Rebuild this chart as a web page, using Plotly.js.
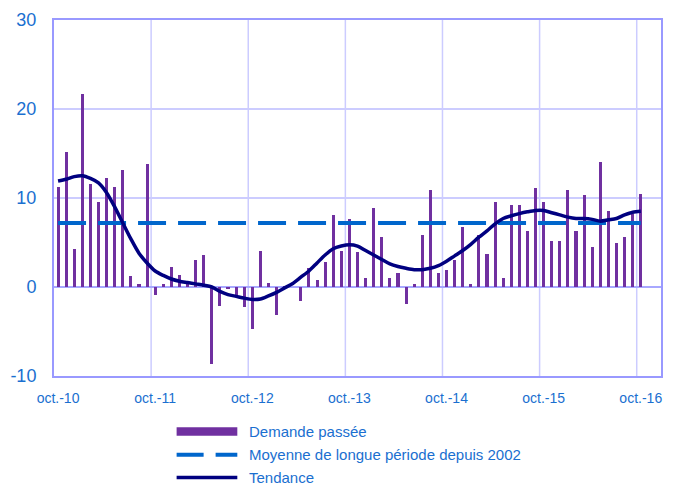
<!DOCTYPE html>
<html>
<head>
<meta charset="utf-8">
<script src="https://cdn.plot.ly/plotly-3.0.1.min.js"></script>
<style>html,body{margin:0;padding:0;background:#fff;}#chart{width:694px;height:488px;}</style>
</head>
<body>
<div id="chart"></div>
<script>
// Monthly categories oct.-10 ... oct.-16 (index 0..72)
const monthIndex = Array.from({length: 73}, (_, i) => i);
const tickLabels = ["oct.-10", "oct.-11", "oct.-12", "oct.-13", "oct.-14", "oct.-15", "oct.-16"];
const tickIndex = [0, 12, 24, 36, 48, 60, 72];

const demandePassee = [
  11.2, 15.2, 4.3, 21.7, 11.6, 9.6, 12.2, 11.2, 13.1, 1.2, 0.3, 13.8,
  -0.9, 0.3, 2.3, 1.4, 0.6, 3.0, 3.6, -8.7, -2.1, -0.2, -1.0, -2.3,
  -4.7, 4.1, 0.5, -3.2, 0.1, 0.0, -1.6, 2.1, 0.8, 2.8, 8.1, 4.0,
  7.6, 3.9, 1.0, 8.9, 5.6, 1.0, 1.6, -1.9, 0.3, 5.8, 10.9, 1.6,
  1.9, 3.0, 6.7, 0.3, 5.8, 3.7, 9.6, 1.0, 9.2, 9.2, 6.3, 11.1,
  9.6, 5.2, 5.2, 10.9, 6.3, 10.3, 4.5, 14.0, 8.5, 5.0, 5.6, 8.2,
  10.5
];

const tendance = [
  11.9, 12.1, 12.4, 12.5, 12.2, 11.7, 10.6, 9.0, 7.2, 5.4, 3.8, 2.7,
  1.8, 1.3, 0.9, 0.65, 0.5, 0.35, 0.2, 0.0, -0.5, -0.85, -1.05, -1.25,
  -1.4, -1.35, -1.0, -0.6, -0.1, 0.4, 1.1, 1.8, 2.7, 3.6, 4.3, 4.6,
  4.75, 4.6, 4.1, 3.6, 3.1, 2.6, 2.3, 2.1, 1.95, 1.95, 2.1, 2.4,
  2.9, 3.5, 4.1, 4.8, 5.6, 6.3, 7.1, 7.7, 8.0, 8.25, 8.45, 8.6,
  8.6, 8.35, 8.1, 7.85, 7.7, 7.7, 7.6, 7.4, 7.55, 7.7, 8.1, 8.4,
  8.5
];

const moyenneLonguePeriode = 7.2;
const moyenne = monthIndex.map(() => moyenneLonguePeriode);

const yTicks = [-10, 0, 10, 20, 30];
const yTickLabels = ["-10", "0", "10", "20", "30"];
const seriesNames = ["Demande passée", "Moyenne de longue période depuis 2002", "Tendance"];

const colBar = '#7030a0', colMean = '#0066cc', colTrend = '#000080';
const blue = '#1a6fd0';
const gridCol = '#ccccff';
const font = 'Liberation Sans, Arial, sans-serif';

const traces = [
  {type: 'bar', x: monthIndex, y: demandePassee, name: seriesNames[0],
   marker: {color: colBar}, width: 0.38, showlegend: false},
  {type: 'scatter', mode: 'lines', x: monthIndex, y: moyenne, name: seriesNames[1],
   line: {color: colMean, width: 4, dash: '28px,12px'}, showlegend: false},
  {type: 'scatter', mode: 'lines', x: monthIndex, y: tendance, name: seriesNames[2],
   line: {color: colTrend, width: 3.5, shape: 'spline', smoothing: 0.8}, showlegend: false}
];

// vertical gridlines sit on the boundaries before each yearly label
const gridX = tickIndex.slice(1).map(v => v - 0.5);
const gridShapes = gridX.map(g => ({
  type: 'line', xref: 'x', yref: 'paper', x0: g, x1: g, y0: 0, y1: 1,
  line: {color: gridCol, width: 1.5}, layer: 'below'
}));

// legend geometry (paper coords)
const legY = [-0.156, -0.221, -0.285];
const lx0 = 0.202, lx1 = 0.302, ltx = 0.318;

const legendShapes = [
  {type: 'rect', xref: 'paper', yref: 'paper', x0: lx0, x1: lx1, y0: legY[0] - 0.012, y1: legY[0] + 0.012,
   fillcolor: colBar, line: {width: 0}},
  {type: 'line', xref: 'paper', yref: 'paper', x0: lx0, x1: lx1, y0: legY[1], y1: legY[1],
   line: {color: colMean, width: 4, dash: '27px,12px'}},
  {type: 'line', xref: 'paper', yref: 'paper', x0: lx0, x1: lx1, y0: legY[2], y1: legY[2],
   line: {color: colTrend, width: 3.5}}
];

const annotations = seriesNames.map((t, i) => ({
  text: t, xref: 'paper', yref: 'paper', x: ltx, y: legY[i], xanchor: 'left', yanchor: 'middle',
  showarrow: false, font: {family: font, size: 15, color: blue}
}));

const layout = {
  width: 694, height: 488,
  margin: {l: 54, r: 33, t: 20, b: 111.5},
  paper_bgcolor: '#ffffff', plot_bgcolor: '#ffffff',
  showlegend: false,
  bargap: 0,
  xaxis: {
    range: [-0.5, 74.5], tickmode: 'array', tickvals: tickIndex, ticktext: tickLabels,
    showgrid: false, zeroline: false, showline: true, mirror: true, linecolor: '#9999ff', linewidth: 2,
    ticks: '', tickfont: {family: font, size: 14, color: blue}, ticklabelstandoff: 8, fixedrange: true
  },
  yaxis: {
    range: [-10, 30], tickmode: 'array', tickvals: yTicks, ticktext: yTickLabels,
    showgrid: true, gridcolor: gridCol, gridwidth: 1.5,
    zeroline: true, zerolinecolor: '#a8a8ff', zerolinewidth: 2,
    showline: true, mirror: true, linecolor: '#9999ff', linewidth: 2,
    ticks: '', tickfont: {family: font, size: 18, color: blue}, ticklabelstandoff: 12
  },
  yaxis2: {
    overlaying: 'y', side: 'right', range: [-10, 30], tickmode: 'array', tickvals: yTicks, ticktext: yTickLabels,
    showgrid: false, zeroline: false, showline: false, ticks: '',
    tickfont: {family: font, size: 18, color: blue}, ticklabelstandoff: 5, anchor: 'x'
  },
  shapes: gridShapes.concat(legendShapes),
  annotations: annotations
};

Plotly.newPlot('chart', traces, layout, {staticPlot: true, displayModeBar: false});
</script>
</body>
</html>
